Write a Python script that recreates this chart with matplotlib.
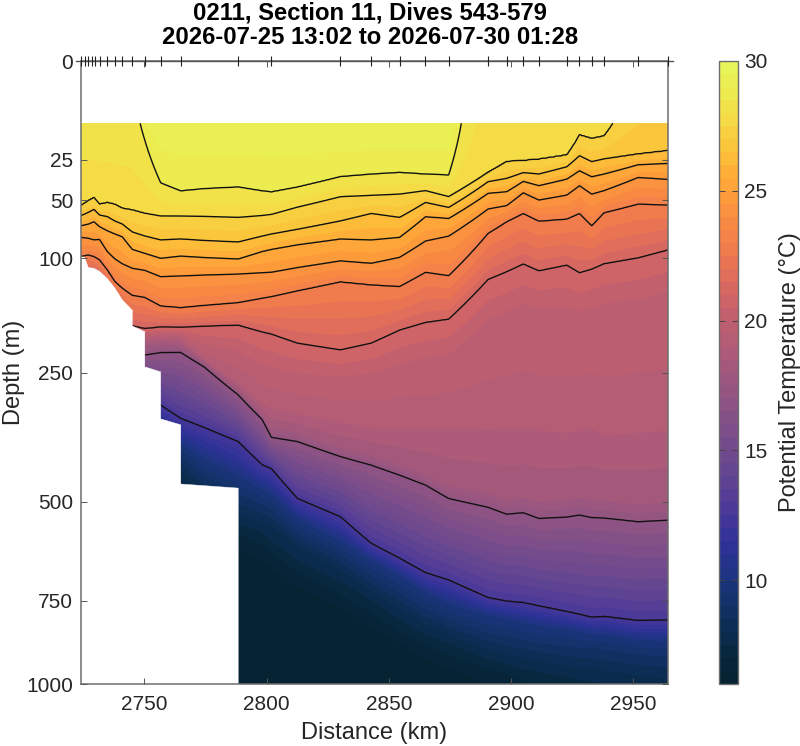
import numpy as np
import matplotlib
matplotlib.use("Agg")
import matplotlib.pyplot as plt
from matplotlib.colors import LinearSegmentedColormap, BoundaryNorm
from matplotlib.patches import Polygon

plt.rcParams['font.family'] = ['Liberation Sans', 'DejaVu Sans']

title_lines = ["0211, Section 11, Dives 543-579", "2026-07-25 13:02 to 2026-07-30 01:28"]
xlabel = "Distance (km)"
ylabel = "Depth (m)"
cblabel = "Potential Temperature (°C)"
depth_ticks = [0, 25, 50, 100, 250, 500, 750, 1000]
dist_ticks = [2750, 2800, 2850, 2900, 2950]
cb_ticks = [10, 15, 20, 25, 30]

dive_km = [2724.1, 2725.6, 2727.1, 2728.4, 2729.7, 2731.7, 2734.6, 2737.9, 2741, 2745.1, 2750.2,
           2756.7, 2764.9, 2788.4, 2802, 2830.2, 2842.8, 2854.4, 2865, 2874.5, 2890.6, 2898.2,
           2905, 2911.4, 2922.8, 2928, 2933, 2938, 2952, 2964.2]

km = [2724.1, 2727.1, 2729.4, 2731.7, 2734.9, 2738.0, 2741.0, 2745.1, 2750.2, 2756.7, 2764.9,
      2774.5, 2788.4, 2798.2, 2802.0, 2812.6, 2830.2, 2842.8, 2854.4, 2865.0, 2874.5, 2890.6,
      2898.2, 2905.0, 2911.4, 2922.8, 2928.0, 2933.0, 2938.0, 2952.0, 2964.2]

surface_depth = 10
# depth (m) of each isotherm at each station; values above the 10 m surface mean the isotherm has outcropped
z292 = [-60]*8 + [5, 12, 15, 15, 15, 15, 15, 15, 15, 15, 15, 15, 15] + [-60]*10
z285 = [0]*8 + [16, 38.3, 43.5, 42, 40.9, 43.5, 44.2, 41, 34.5, 33, 32, 33, 33.5] + [-40]*10
z275 = [53.9, 50.3, 48.1, 52.9, 51.7, 53, 55.9, 57.2, 59.8, 61.9, 61.9, 62.2, 63, 61.5, 60.6, 55, 47.4, 46.5,
        45.6, 43.3, 47.4, 32, 26.1, 25.6, 24.9, 22.8, 14.1, 15.5, 14.5, -2.6, -5]
z265 = [61.6, 59, 56.7, 61.1, 62.4, 66, 68.5, 75.3, 78.9, 82.5, 81.6, 83, 84.4, 79, 77.1, 73, 65.9, 59.8,
        63, 51.5, 55.2, 37.5, 35.5, 32.1, 32.9, 28.8, 23.1, 26.1, 24.7, 22.3, 20.7]
z255 = [69.9, 68.5, 66.5, 70.7, 74.2, 77, 79.5, 91.4, 95.3, 100.3, 98, 99.5, 101, 93.5, 91.4, 87, 81.6, 82.5,
        80.1, 62.4, 63.8, 45.1, 44, 37.3, 40, 35.9, 31, 34.5, 32.9, 27.7, 27]
z245 = [80.1, 81, 82.5, 82, 93.7, 101, 106, 110.7, 112.9, 119.8, 119, 118, 116.9, 115.5, 115, 110, 103, 105.5,
        99.3, 83.5, 78.9, 56.4, 53.9, 44.7, 49.8, 46.3, 40, 45.6, 43.3, 34.9, 36.1]
z230 = [98.6, 97, 98.6, 102, 112.6, 125.5, 133, 141.5, 144, 154.7, 156.8, 154, 150.5, 145, 143, 136, 125.5, 129,
        131, 115, 118.7, 76.5, 66.5, 59.8, 66, 64.3, 59.8, 69.9, 59.3, 52.7, 53.4]
z210 = [104, 114, 115, 119, 128, 140, 156, 181, 184.6, 182.3, 182.8, 181, 179.6, 189, 192, 205, 215, 205,
        186.4, 176, 171.5, 122.8, 114.3, 106, 113.3, 107.2, 115.4, 111.5, 105.8, 99.7, 91.8]
z200 = [107, 118, 119, 123, 132, 144, 160, 187, 192, 190, 190, 205, 215, 235, 240, 250, 255, 250,
        235, 225, 220, 170, 160, 150, 155, 155, 160, 155, 150, 145, 135]
z190 = [110, 120, 121, 126, 135, 148, 165, 192, 198, 196, 198, 228, 265, 300, 310, 320, 335, 345,
        345, 345, 345, 350, 345, 345, 350, 355, 350, 345, 360, 355, 350]
z180 = [114, 124, 125, 130, 140, 153, 172, 200, 208, 206, 208, 232, 278, 320, 345, 355, 385, 400,
        420, 440, 465, 480, 495, 490, 500, 495, 490, 495, 498, 505, 500]
z170 = [125, 130, 130, 132, 145, 158, 175, 210, 222.7, 219, 218.7, 241, 287, 331, 365, 373, 403, 420.6,
        441.6, 463, 493, 513, 529, 525.6, 539, 535.8, 531, 537, 538, 546.8, 543]
z125 = [160, 165, 168, 170, 180, 190, 200, 250, 285, 305, 329, 346, 373, 420, 428, 493, 535, 599.5,
        637, 674.6, 694, 742, 752, 756, 765, 781, 789, 797.5, 795, 807, 805]
z100 = [180, 185, 188, 190, 200, 210, 220, 280, 320, 345, 375, 405, 440, 470, 480, 535, 590, 640,
        680, 725, 755, 790, 800, 810, 820, 830, 838, 845, 845, 860, 865]
z090 = [200, 205, 208, 210, 220, 230, 240, 300, 345, 370, 400, 440, 480, 505, 515, 570, 625, 680,
        725, 770, 800, 840, 850, 860, 870, 880, 885, 885, 890, 905, 912]
z080 = [220, 225, 228, 230, 240, 250, 260, 320, 370, 400, 430, 480, 525, 545, 555, 605, 665, 720,
        770, 815, 845, 890, 905, 915, 925, 940, 945, 950, 955, 970, 980]
z075 = [240, 245, 248, 250, 260, 270, 280, 340, 390, 420, 450, 510, 550, 570, 590, 640, 695, 745,
        800, 845, 870, 920, 935, 950, 960, 975, 985, 990, 995, 1010, 1020]
z070 = [260, 265, 268, 270, 280, 290, 300, 360, 410, 445, 480, 530, 575, 600, 615, 670, 730, 780,
        835, 875, 905, 950, 965, 985, 1000, 1020, 1030, 1035, 1040, 1050, 1060]
z065 = [280, 285, 288, 290, 300, 310, 320, 380, 430, 470, 510, 550, 605, 640, 655, 710, 765, 820,
        870, 915, 945, 995, 1010, 1030, 1050, 1060, 1070, 1075, 1080, 1090, 1100]
z060 = [1400]*31

isotherm_T = [29.2, 28.5, 27.5, 26.5, 25.5, 24.5, 23, 21, 20, 19, 18, 17, 12.5, 10, 9, 8, 7.5, 7, 6.5, 6.0]
isotherm_z = [z292, z285, z275, z265, z255, z245, z230, z210, z200, z190, z180, z170, z125, z100, z090, z080, z075, z070, z065, z060]
contour_levels = [12.5, 17, 21, 23, 24.5, 25.5, 26.5, 27.5, 28.5]

# sea floor outline (distance, depth)
floor_km = [2724.1, 2788.4, 2788.4, 2764.9, 2764.9, 2756.7, 2756.7, 2750.2, 2750.2, 2745.1, 2745.1,
            2741, 2738, 2734.9, 2731.7, 2729.4, 2727.1, 2725.5, 2724.1]
floor_z = [1000, 1000, 470, 461, 341, 330, 249, 241, 188.8, 181, 160, 147, 133, 122, 114, 110.7, 110, 99, 99]

cmap_T = [6, 7, 8, 9, 10, 11, 12, 13, 14, 15, 16, 17, 18, 19, 20, 21, 22, 23, 24, 25, 26, 27, 28, 29, 30]
cmap_rgb = [(5,35,50), (8,40,65), (12,46,85), (20,50,108), (30,52,130), (45,50,150), (62,52,155), (85,62,150),
            (100,70,145), (115,75,140), (130,80,135), (145,85,130), (160,88,125), (178,92,118), (190,95,112),
            (210,102,100), (228,112,88), (242,125,75), (250,140,65), (254,158,58), (253,178,55), (250,200,60),
            (245,220,70), (236,236,80), (232,245,90)]

# ---------- build section ----------
W, H = 800, 746
DARK = '#262626'
fig = plt.figure(figsize=(W/100, H/100), dpi=100)
ax = fig.add_axes([81/W, 1-684/H, 587/W, 623/H])
cax = fig.add_axes([718.5/W, 1-684/H, 19/W, 623/H])

ax.set_yscale('function', functions=(lambda v: np.sqrt(np.maximum(v, 0)), lambda v: v**2))
ax.set_axisbelow(False)

xgrid = np.linspace(km[0], km[-1], 961)
zgrid = np.linspace(np.sqrt(surface_depth), np.sqrt(1000), 500)**2
# isotherm depths carried along distance so each isotherm runs straight between stations
depth_at = np.array([np.interp(xgrid, km, z) for z in isotherm_z])
T = np.zeros((len(zgrid), len(xgrid)))
for j in range(len(xgrid)):
    T[:, j] = np.interp(zgrid, depth_at[:, j], isotherm_T)

cmap = LinearSegmentedColormap.from_list('thermal_like',
    [((a-6)/24, tuple(c/255 for c in rgb)) for a, rgb in zip(cmap_T, cmap_rgb)], N=256)
fill_levels = np.arange(6, 30.5, 0.5)
norm = BoundaryNorm(fill_levels, cmap.N)

cf = ax.contourf(xgrid, zgrid, T, levels=fill_levels, cmap=cmap, norm=norm, extend='both')
cf.set_edgecolor('face')
cf.set_linewidth(0.4)
cl = ax.contour(xgrid, zgrid, T, levels=contour_levels, colors='#111111', linewidths=1.0)
ax.add_patch(Polygon(list(zip(floor_km, floor_z)), closed=True, facecolor='white', edgecolor='white',
                     linewidth=0.3, zorder=2.2))

ax.set_xlim(2724.1, 2964.2)
ax.set_ylim(1000, 0)
ax.set_yticks(depth_ticks)
ax.set_yticks([], minor=True)
ax.set_yticklabels([str(d) for d in depth_ticks])
ax.set_xticks(dist_ticks)
ax.tick_params(axis='both', which='major', direction='in', length=4.6, width=0.7, color='#555555',
               labelsize=15, labelcolor=DARK, top=True, right=True)
ax.tick_params(axis='x', pad=8)
ax.tick_params(axis='y', pad=5.5)
ax.set_xlabel(xlabel, fontsize=17, color=DARK, labelpad=5.5)
ax.set_ylabel(ylabel, fontsize=17, color=DARK)
ax.yaxis.set_label_coords(-0.096, 0.5)
for s in ax.spines.values():
    s.set_color('#6e6e6e')
    s.set_linewidth(1.1)

# dive markers sit on a baseline that overshoots the axes a little
ax.plot([-0.0085, 1.0085], [1, 1], transform=ax.transAxes, color='#555555', lw=1.0, clip_on=False, zorder=4)
ax.plot(dive_km, np.zeros(len(dive_km)), linestyle='none', marker='|', markersize=7.5,
        markeredgewidth=0.8, color='#222222', clip_on=False, zorder=5)

fig.text(370/W, 1-13/H, title_lines[0], ha='center', va='center', fontsize=17.2, fontweight='bold', color='black')
fig.text(370/W, 1-38/H, title_lines[1], ha='center', va='center', fontsize=17.2, fontweight='bold', color='black')

sm = plt.cm.ScalarMappable(norm=norm, cmap=cmap)
cb = fig.colorbar(sm, cax=cax, spacing='proportional', ticks=cb_ticks, drawedges=False)
cb.ax.set_ylim(6, 30)
cb.ax.tick_params(direction='in', length=4.3, width=0.7, color='#444444', labelsize=15, labelcolor=DARK,
                  left=True, right=True, pad=5)
cb.minorticks_off()
cb.set_label(cblabel, fontsize=17, color=DARK)
cb.ax.yaxis.set_label_coords(3.18, 0.5)
cb.outline.set_edgecolor('#6e6e6e')
cb.outline.set_linewidth(1.0)

fig.savefig('out.png', dpi=100, facecolor='white')
